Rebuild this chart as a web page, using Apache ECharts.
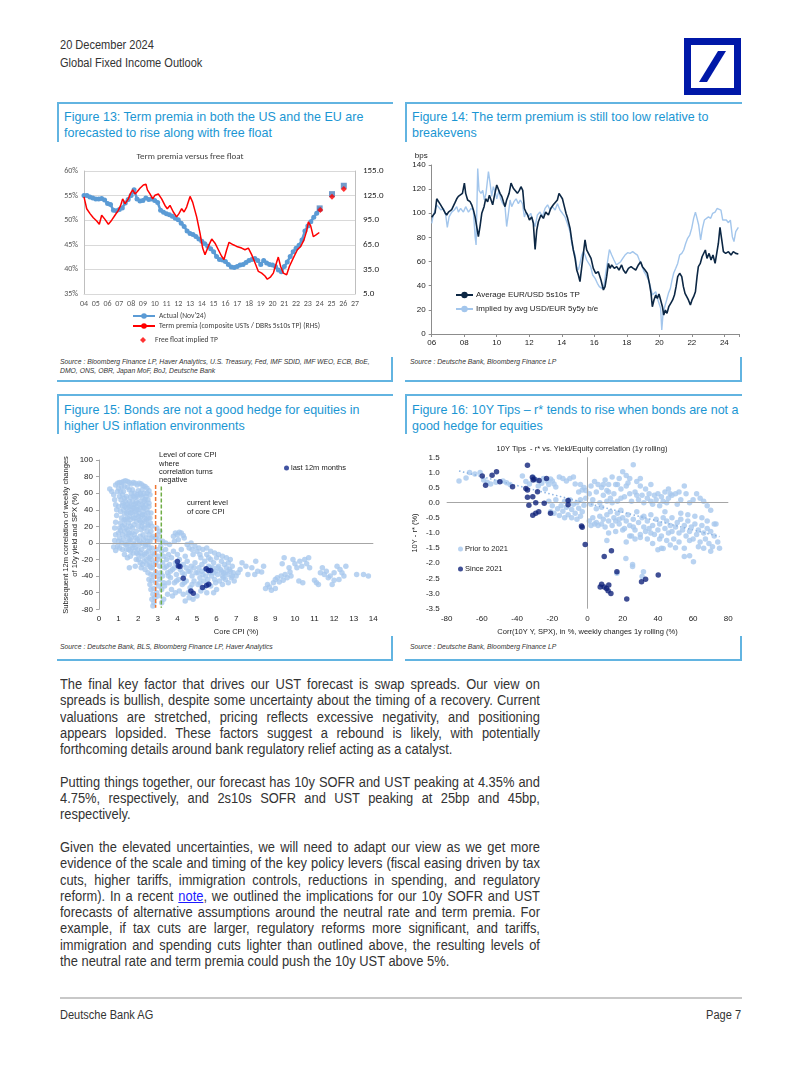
<!DOCTYPE html>
<html><head><meta charset="utf-8">
<script src="https://cdn.jsdelivr.net/npm/echarts@6/dist/echarts.min.js"></script>
<style>
html,body{margin:0;padding:0;background:#fff;}
body{width:802px;height:1068px;position:relative;overflow:hidden;font-family:"Liberation Sans",Arial,sans-serif;color:#333;}
.abs{position:absolute;white-space:nowrap;}
.sx{transform:scaleX(0.92);transform-origin:left top;}
.sxr{transform:scaleX(0.92);transform-origin:right top;}
.hdr{font-size:12px;line-height:16px;color:#333;}
.ftitle{font-size:13.6px;line-height:16px;color:#1b96d3;}
.bl{position:absolute;background:#62b4e1;}
.src{font-family:"Liberation Sans",Arial,sans-serif;font-style:italic;font-size:6.8px;line-height:9px;color:#333;}
.body{position:absolute;left:60px;top:676px;width:521.7px;font-size:14px;line-height:16.3px;color:#333;transform:scaleX(0.92);transform-origin:left top;}
.body div{white-space:nowrap;}
.body .j{text-align:justify;text-align-last:justify;white-space:normal;}
.body .gap{height:16.3px;}
.body a{color:#1a1aff;text-decoration:underline;}
#c{position:absolute;left:0;top:0;width:802px;height:1068px;}
</style></head>
<body>
<div class="abs hdr sx" style="left:60px;top:37px;">20 December 2024</div>
<div class="abs hdr sx" style="left:60px;top:55px;">Global Fixed Income Outlook</div>
<svg class="abs" style="left:684px;top:38px;" width="57" height="57" viewBox="0 0 57 57">
 <rect x="0" y="0" width="57" height="57" fill="#0018a8"/>
 <rect x="7" y="7" width="43" height="43" fill="#fff"/>
 <polygon points="15,44 23,44 42,13 34,13" fill="#0018a8"/>
</svg>

<!-- panel borders -->
<div class="bl" style="left:57px;top:102px;width:336px;height:1.6px;"></div>
<div class="bl" style="left:57px;top:102px;width:1.6px;height:40px;"></div>
<div class="bl" style="left:57px;top:380px;width:336px;height:1.6px;"></div>
<div class="bl" style="left:391px;top:357px;width:1.6px;height:25px;"></div>

<div class="bl" style="left:405px;top:102px;width:337px;height:1.6px;"></div>
<div class="bl" style="left:405px;top:102px;width:1.6px;height:40px;"></div>
<div class="bl" style="left:405px;top:380px;width:337px;height:1.6px;"></div>
<div class="bl" style="left:740px;top:357px;width:1.6px;height:25px;"></div>

<div class="bl" style="left:57px;top:394px;width:336px;height:1.6px;"></div>
<div class="bl" style="left:57px;top:394px;width:1.6px;height:40px;"></div>
<div class="bl" style="left:57px;top:659px;width:336px;height:1.6px;"></div>
<div class="bl" style="left:391px;top:636px;width:1.6px;height:25px;"></div>

<div class="bl" style="left:405px;top:394px;width:337px;height:1.6px;"></div>
<div class="bl" style="left:405px;top:394px;width:1.6px;height:40px;"></div>
<div class="bl" style="left:405px;top:659px;width:337px;height:1.6px;"></div>
<div class="bl" style="left:740px;top:636px;width:1.6px;height:25px;"></div>

<div class="abs ftitle sx" style="left:64px;top:109px;">Figure 13: Term premia in both the US and the EU are<br>forecasted to rise along with free float</div>
<div class="abs ftitle sx" style="left:412px;top:109px;">Figure 14: The term premium is still too low relative to<br>breakevens</div>
<div class="abs ftitle sx" style="left:64px;top:402px;">Figure 15: Bonds are not a good hedge for equities in<br>higher US inflation environments</div>
<div class="abs ftitle sx" style="left:412px;top:402px;">Figure 16: 10Y Tips – r* tends to rise when bonds are not a<br>good hedge for equities</div>

<div class="abs src" style="left:60px;top:357px;">Source : Bloomberg Finance LP, Haver Analytics, U.S. Treasury, Fed, IMF SDID, IMF WEO, ECB, BoE,<br>DMO, ONS, OBR, Japan MoF, BoJ, Deutsche Bank</div>
<div class="abs src" style="left:410px;top:357px;">Source : Deutsche Bank, Bloomberg Finance LP</div>
<div class="abs src" style="left:60px;top:642px;">Source : Deutsche Bank, BLS, Bloomberg Finance LP, Haver Analytics</div>
<div class="abs src" style="left:410px;top:642px;">Source : Deutsche Bank, Bloomberg Finance LP</div>

<div class="body">
<div class="j">The final key factor that drives our UST forecast is swap spreads. Our view on</div>
<div class="j">spreads is bullish, despite some uncertainty about the timing of a recovery. Current</div>
<div class="j">valuations are stretched, pricing reflects excessive negativity, and positioning</div>
<div class="j">appears lopsided. These factors suggest a rebound is likely, with potentially</div>
<div>forthcoming details around bank regulatory relief acting as a catalyst.</div>
<div class="gap"></div>
<div class="j">Putting things together, our forecast has 10y SOFR and UST peaking at 4.35% and</div>
<div class="j">4.75%, respectively, and 2s10s SOFR and UST peaking at 25bp and 45bp,</div>
<div>respectively.</div>
<div class="gap"></div>
<div class="j">Given the elevated uncertainties, we will need to adapt our view as we get more</div>
<div class="j">evidence of the scale and timing of the key policy levers (fiscal easing driven by tax</div>
<div class="j">cuts, higher tariffs, immigration controls, reductions in spending, and regulatory</div>
<div class="j">reform). In a recent <a>note</a>, we outlined the implications for our 10y SOFR and UST</div>
<div class="j">forecasts of alternative assumptions around the neutral rate and term premia. For</div>
<div class="j">example, if tax cuts are larger, regulatory reforms more significant, and tariffs,</div>
<div class="j">immigration and spending cuts lighter than outlined above, the resulting levels of</div>
<div>the neutral rate and term premia could push the 10y UST above 5%.</div>
</div>

<div class="abs" style="left:60px;top:997px;width:682px;height:1.5px;background:#c8c8c8;"></div>
<div class="abs hdr sx" style="left:60px;top:1007px;">Deutsche Bank AG</div>
<div class="abs hdr sxr" style="right:61px;top:1007px;">Page 7</div>

<div id="c"></div>
<script>
// ---------- Figure 13 data ----------
const f13YearTicks = [2004, 2027];
const ffActual = [[2004.00,55.0],[2004.25,55.0],[2004.50,54.7],[2004.75,54.5],[2005.00,54.3],[2005.25,54.3],[2005.50,54.4],[2005.75,54.1],[2006.00,53.4],[2006.25,53.2],[2006.50,52.0],[2006.75,51.9],[2007.00,52.2],[2007.25,52.5],[2007.50,53.5],[2007.75,54.2],[2008.00,55.0],[2008.25,56.2],[2008.50,54.3],[2008.75,53.9],[2009.00,54.0],[2009.25,54.5],[2009.50,54.2],[2009.75,54.3],[2010.00,54.0],[2010.25,53.6],[2010.50,52.0],[2010.75,51.6],[2011.00,51.3],[2011.25,51.1],[2011.50,50.8],[2011.75,50.4],[2012.00,50.1],[2012.25,49.4],[2012.50,48.7],[2012.75,47.8],[2013.00,47.3],[2013.25,47.1],[2013.50,46.7],[2013.75,46.2],[2014.00,45.7],[2014.25,45.2],[2014.50,44.7],[2014.75,44.2],[2015.00,43.6],[2015.25,42.6],[2015.50,42.0],[2015.75,41.9],[2016.00,41.6],[2016.25,41.0],[2016.50,40.5],[2016.75,40.4],[2017.00,40.6],[2017.25,40.9],[2017.50,41.0],[2017.75,41.4],[2018.00,41.8],[2018.25,42.0],[2018.50,42.2],[2018.75,41.8],[2019.00,41.0],[2019.25,41.8],[2019.50,41.3],[2019.75,41.0],[2020.00,40.9],[2020.25,40.6],[2020.50,39.9],[2020.75,39.5],[2021.00,40.6],[2021.25,41.5],[2021.50,42.6],[2021.75,43.6],[2022.00,44.3],[2022.25,44.9],[2022.50,46.0],[2022.75,47.8],[2023.00,48.8],[2023.25,49.7],[2023.50,50.6],[2023.75,51.4],[2024.00,52.2]];
const ffForecast = [[2024.00,52.4],[2025.05,55.3],[2026.05,57.0]];
const termPremia = [[2004.00,123.5],[2004.23,109],[2004.51,103],[2004.79,98],[2005.08,94],[2005.30,90],[2005.50,101],[2005.78,96],[2006.07,90],[2006.35,95],[2006.63,101],[2006.91,107],[2007.11,113],[2007.28,121],[2007.48,115],[2007.76,121],[2007.96,128],[2008.13,132],[2008.33,127],[2008.53,130],[2008.75,134],[2009.04,138],[2009.26,139],[2009.38,132],[2009.60,127],[2009.83,121],[2010.03,125.5],[2010.31,127],[2010.59,121],[2010.87,113],[2011.07,109],[2011.30,113],[2011.58,105],[2011.86,99],[2012.06,103],[2012.29,109],[2012.49,105],[2012.71,111],[2013.00,124],[2013.22,117],[2013.56,99],[2013.85,79],[2014.07,61],[2014.27,53],[2014.55,63],[2014.84,72],[2015.12,67],[2015.40,59],[2015.68,51],[2015.88,47],[2016.11,59],[2016.31,68],[2016.67,65],[2016.96,63],[2017.38,61],[2017.66,59],[2017.95,61],[2018.23,53],[2018.51,43],[2018.80,32.5],[2019.08,30.5],[2019.36,27],[2019.56,23],[2019.84,26],[2020.07,30.5],[2020.29,41],[2020.49,50],[2020.69,38.5],[2020.92,30.5],[2021.20,28.5],[2021.43,38.5],[2021.77,49],[2022.11,59],[2022.39,63],[2022.67,71],[2022.90,82],[2023.04,93],[2023.24,88],[2023.46,75],[2023.69,77],[2023.97,80]];
const ffImpliedTP = [[2024.05,107.3],[2025.05,123.5],[2026.05,133.2]];
const f13RightTicks = [5,35,65,95,125,155];

// ---------- Figure 14 data ----------
const tpAvg = [[2006.00,96.7],[2006.10,98.6],[2006.21,100.5],[2006.31,112],[2006.41,111],[2006.55,107],[2006.72,103],[2006.82,100.5],[2006.92,98.6],[2007.03,101],[2007.23,103],[2007.44,109],[2007.54,112],[2007.64,114],[2007.74,114],[2007.89,116.5],[2008.01,125],[2008.09,116.5],[2008.21,111],[2008.36,109.6],[2008.46,107],[2008.56,103],[2008.67,97],[2008.77,89],[2008.87,80.6],[2008.97,89],[2009.08,100],[2009.22,105.5],[2009.32,112],[2009.44,109.6],[2009.55,115],[2009.65,111],[2009.75,107],[2009.85,114],[2010.00,123.5],[2010.10,122],[2010.20,116.5],[2010.31,114],[2010.41,109.6],[2010.51,105.5],[2010.61,111],[2010.76,116.5],[2010.88,125],[2011.02,120.7],[2011.13,122],[2011.27,116.5],[2011.39,119],[2011.49,122],[2011.60,119],[2011.70,104],[2011.80,101],[2011.90,98.6],[2012.01,94.4],[2012.15,97],[2012.25,91.7],[2012.36,70],[2012.46,86],[2012.56,93],[2012.72,98.6],[2012.87,95.8],[2013.01,101],[2013.18,98.6],[2013.32,104],[2013.48,107],[2013.59,105.5],[2013.73,111],[2013.83,116.5],[2013.93,118],[2014.04,112],[2014.16,105.5],[2014.26,100],[2014.36,95.8],[2014.51,87.5],[2014.61,77.9],[2014.71,69.6],[2014.82,62.7],[2014.92,53],[2015.02,48.9],[2015.12,43.4],[2015.23,55.8],[2015.33,66.8],[2015.43,77.9],[2015.53,69.6],[2015.64,66.8],[2015.80,62.7],[2015.94,54.4],[2016.09,50.3],[2016.25,51.6],[2016.41,44.7],[2016.56,36.5],[2016.66,39.2],[2016.76,47.5],[2016.87,58.5],[2016.97,54.4],[2017.07,57.2],[2017.23,54.4],[2017.38,55.8],[2017.52,53],[2017.68,57.2],[2017.79,53],[2017.93,50.3],[2018.10,54.4],[2018.26,55.8],[2018.40,54.4],[2018.55,53],[2018.71,57.2],[2018.85,59.9],[2018.96,55.8],[2019.12,53],[2019.26,50.3],[2019.39,42],[2019.49,33.7],[2019.57,22.6],[2019.67,28.2],[2019.78,32.3],[2019.88,29.5],[2019.98,33.1],[2020.08,28.2],[2020.19,22.6],[2020.27,15.7],[2020.37,19.9],[2020.47,17.1],[2020.58,22.6],[2020.70,25.4],[2020.82,28.2],[2020.93,32.3],[2021.03,39.2],[2021.13,47.5],[2021.25,50.3],[2021.38,47.5],[2021.48,39.2],[2021.58,33.7],[2021.68,32.3],[2021.79,28.2],[2021.91,24],[2022.01,28.2],[2022.11,30.9],[2022.22,35],[2022.32,47.5],[2022.40,55.8],[2022.52,58.5],[2022.63,64],[2022.73,62.7],[2022.83,69.6],[2022.93,62.7],[2023.06,66.8],[2023.18,61.3],[2023.30,65.4],[2023.43,58.5],[2023.53,66.8],[2023.63,75],[2023.73,88.4],[2023.84,77.9],[2023.94,68.2],[2024.08,66.8],[2024.25,68.2],[2024.41,65.4],[2024.55,68.2],[2024.70,66.8],[2024.86,66.3]];
const beImplied = [[2006.00,91.7],[2006.10,98.6],[2006.21,102.7],[2006.31,107],[2006.41,108],[2006.57,102.7],[2006.72,104],[2006.86,98.6],[2006.96,88.4],[2007.07,97],[2007.23,101],[2007.39,102.7],[2007.54,105.5],[2007.64,101],[2007.78,104],[2007.95,101],[2008.09,105.5],[2008.26,101],[2008.42,104],[2008.56,102.7],[2008.67,80.6],[2008.73,73.7],[2008.83,137],[2008.91,119],[2009.03,116.5],[2009.14,119],[2009.24,111],[2009.34,116.5],[2009.49,134.5],[2009.59,125],[2009.69,114],[2009.79,122],[2009.90,118],[2010.00,112],[2010.14,119],[2010.24,112],[2010.37,108],[2010.51,105.5],[2010.61,89],[2010.72,100],[2010.82,111],[2010.92,105.5],[2011.06,109.6],[2011.19,112],[2011.33,108],[2011.45,111],[2011.58,108],[2011.70,97],[2011.80,101],[2011.95,97],[2012.09,100],[2012.21,94.4],[2012.36,89],[2012.50,98.6],[2012.66,101],[2012.81,97],[2012.97,104],[2013.13,107],[2013.28,102.7],[2013.42,105.5],[2013.59,102.7],[2013.73,108],[2013.89,102.7],[2014.04,100],[2014.20,97],[2014.34,91.7],[2014.51,84.8],[2014.61,75],[2014.71,69.6],[2014.82,65.4],[2014.92,55.8],[2015.02,53],[2015.12,58.5],[2015.23,65.4],[2015.33,68.2],[2015.43,65.4],[2015.53,61.3],[2015.64,62.7],[2015.78,55.8],[2015.90,48.9],[2016.05,46.1],[2016.19,42],[2016.31,39.2],[2016.46,37.8],[2016.60,40.6],[2016.70,50.3],[2016.80,58.5],[2016.93,70],[2017.07,65.4],[2017.21,61.3],[2017.36,57.2],[2017.48,58.5],[2017.62,59.9],[2017.75,62.7],[2017.89,65.4],[2018.05,67.4],[2018.20,66.8],[2018.36,68.2],[2018.50,66.8],[2018.65,65.4],[2018.77,61.3],[2018.92,57.2],[2019.06,51.6],[2019.18,48.9],[2019.33,44.7],[2019.45,39.2],[2019.57,32.3],[2019.67,30.9],[2019.78,35],[2019.88,29.5],[2019.98,28.2],[2020.08,21.3],[2020.15,3.3],[2020.23,17.1],[2020.33,22.6],[2020.45,28.2],[2020.56,33.7],[2020.68,37.8],[2020.78,44.7],[2020.88,50.3],[2021.01,54.4],[2021.13,58.5],[2021.25,65.4],[2021.38,66.8],[2021.50,69.6],[2021.62,75],[2021.74,79.3],[2021.87,82],[2021.99,87.5],[2022.11,95.8],[2022.22,101],[2022.32,95.8],[2022.42,90.3],[2022.54,77.9],[2022.65,87.5],[2022.77,94.4],[2022.89,93],[2023.02,97],[2023.16,95.8],[2023.28,100],[2023.43,101],[2023.55,104],[2023.67,104],[2023.79,102.7],[2023.90,94.4],[2024.00,93],[2024.12,94.4],[2024.25,92.2],[2024.37,94.4],[2024.49,80.6],[2024.59,76.5],[2024.70,84.8],[2024.86,88.4]];

// ---------- Figure 15 data ----------
const cpiHistory = [[0.85,70],[0.95,72],[1.05,73],[1.15,73],[1.25,74],[1.35,75],[1.45,74],[1.55,73],[1.65,71],[1.75,73],[1.85,72],[1.95,70],[2.05,72],[2.15,71],[2.25,69],[2.35,68],[2.45,66],[2.55,63],[2.6,58],
[0.55,65],[0.65,62],[0.75,58],[0.8,52],[0.85,46],[0.9,40],[0.9,33],[0.85,25],[0.8,18],[0.85,10],[0.8,3],[0.75,-5],[0.85,-9],[0.95,-4],[1.0,2],
[1.0,66],[1.1,62],[1.2,58],[1.3,54],[1.35,50],[1.45,47],[1.55,50],[1.6,55],[1.65,60],[1.55,64],[1.45,67],[1.3,68],[1.15,68],[1.7,64],[1.8,60],[1.85,55],[1.9,50],[1.95,58],[2.0,63],[2.1,60],[2.2,64],[2.3,60],[2.4,56],[2.5,52],[2.2,55],[2.1,50],
[1.0,44],[1.1,38],[1.15,30],[1.2,45],[1.25,40],[1.3,35],[1.35,28],[1.4,42],[1.5,38],[1.55,32],[1.6,44],[1.65,40],[1.7,36],[1.75,46],[1.8,42],[1.85,38],[1.9,34],[1.95,44],[2.0,40],[2.05,36],[2.1,42],[2.15,32],[2.2,46],[2.25,38],[2.3,42],[2.35,34],[2.4,46],[2.45,40],[2.5,36],[2.55,44],[2.6,30],[1.45,30],[1.6,28],[1.75,30],[1.9,26],[2.05,28],[2.2,24],[2.35,26],[2.5,22],[2.0,48],[1.85,47],[2.3,50],[1.7,50],[1.5,24],[1.3,22],[1.1,24],[1.05,18],
[1.0,12],[1.05,6],[1.1,15],[1.15,0],[1.2,10],[1.25,4],[1.3,14],[1.35,-2],[1.4,8],[1.45,16],[1.5,2],[1.55,12],[1.6,-4],[1.65,6],[1.7,18],[1.75,0],[1.8,10],[1.85,-6],[1.9,14],[1.95,4],[2.0,20],[2.05,-2],[2.1,8],[2.15,16],[2.2,0],[2.25,10],[2.3,18],[2.35,-4],[2.4,6],[2.45,14],[2.5,-2],[2.55,10],[2.6,2],[2.65,14],[2.7,-6],[2.5,20],[2.2,20],[1.6,20],[1.4,-8],[1.2,-8],[1.05,-6],
[1.3,-14],[1.45,-18],[1.6,-16],[1.75,-12],[1.9,-20],[2.0,-14],[2.1,-24],[2.2,-16],[2.3,-22],[2.4,-12],[2.45,-26],[2.55,-18],[2.6,-28],[2.7,-20],[2.75,-12],[2.15,-30],[1.85,-28],[1.55,-30],[2.35,-32],[2.5,-36],[2.65,-38],[2.8,-26],
[2.55,-44],[2.6,-50],[2.65,-56],[2.7,-45],[2.75,-62],[2.7,-68],[2.8,-72],[2.75,-76],[2.85,-66],[2.8,-55],[2.9,-48],[2.95,-60],[3.0,-40],[3.05,-52],[2.9,-35],[3.0,-64],[2.65,-30],
[2.95,18],[3.0,10],[3.1,14],[3.05,4],[3.15,-4],[2.9,6],
[1.12,52],[1.22,48],[1.32,44],[1.42,36],[1.52,44],[1.62,36],[1.72,42],[1.82,30],[1.92,40],[2.02,32],[2.12,26],[2.22,34],[2.32,30],[2.42,28],[2.52,30],[2.62,24],[1.18,20],[1.28,28],[1.38,18],[1.48,10],[1.58,4],[1.68,12],[1.78,22],[1.88,6],[1.98,-8],[2.08,2],[2.18,-8],[2.28,4],[2.38,-2],[2.48,2],[2.58,-6],[2.68,6],[1.42,-2],[1.52,-8],[1.62,-10],[1.72,-6],[1.82,-2],[1.92,-12],[2.02,-20],[2.12,-12],[2.22,-26],[2.32,-14],[2.42,-20],[2.52,-10],[2.62,-16],[2.72,-30],[2.78,-40],[2.58,-24],[1.95,56],[2.15,58],[2.35,52],[2.55,48],[2.45,60],[1.25,62],[1.05,56],[0.95,62],[1.75,56],[1.4,56],[2.25,44],[2.65,36],[2.7,20],[2.75,8],[2.85,-14],[2.9,-24],[2.95,-8],[3.0,-20],[3.1,-28],[3.05,-16],[3.15,-36],[3.1,-44],[3.2,-56],[3.25,-40],[3.3,-48],
[3.2,-10],[3.3,-16],[3.25,-24],[3.35,-30],[3.4,-8],[3.45,-20],[3.5,-36],[3.55,-14],[3.6,-26],[3.65,-42],[3.7,-18],[3.75,-32],[3.8,-10],[3.85,-48],[3.9,-24],[3.95,-38],[4.0,-14],[4.05,-44],[4.1,-20],[4.15,-32],[4.2,-8],[4.25,-50],[4.3,-26],[4.35,-38],[4.4,-16],[4.45,-46],[4.5,-22],[4.55,-34],[4.6,-6],[4.65,-54],[4.7,-28],[4.75,-40],[4.8,-14],[4.85,-46],[4.9,-24],[4.95,-36],[5.0,-10],[5.05,-50],[5.1,-30],[5.15,-42],[5.2,-18],[5.25,-26],[5.3,-38],[5.35,-46],[5.4,-22],[5.45,-32],[5.5,-14],[5.55,-44],[5.6,-28],[5.65,-36],[5.7,-20],[5.75,-40],[5.8,-30],[5.85,-24],[5.9,-44],[5.95,-34],[6.0,-18],[6.05,-38],[6.1,-28],[6.15,-46],[6.2,-32],[6.25,-22],[6.3,-40],[6.35,-36],[6.4,-26],[6.45,-44],[6.5,-30],[6.55,-38],[6.6,-24],[6.7,-34],[6.75,-42],[6.8,-28],[6.85,-36],[7.0,-40],[7.1,-36],[6.9,-46],[6.6,-48],[6.3,-50],[6.0,-56],[5.7,-52],[5.5,-60],[5.2,-58],[5.0,-64],[4.8,-68],[4.6,-66],[4.4,-70],[4.3,-62],[4.1,-58],[3.9,-60],[3.7,-56],[3.5,-62],[3.3,-68],[3.2,-72],[3.35,-52],[3.55,-48],[3.75,-64],[4.55,-60],[5.35,-54],[5.85,-60],
[3.8,8],[3.9,12],[4.0,10],[4.1,13],[4.2,12],[4.3,9],[4.35,6],[4.05,4],[3.85,2],[3.6,-2],[3.4,0],[3.25,2],[4.5,-2],[4.7,0],[4.9,-4],[5.1,-6],[5.3,-8],[5.5,-6],[5.7,-10],[5.9,-12],[6.1,-14],[6.3,-16],[6.5,-18],[6.7,-20],[4.75,-8],[5.15,-14],[5.6,-18],
[3.45,-28],[3.65,-34],[3.85,-30],[4.05,-26],[4.25,-36],[4.45,-30],[4.65,-34],[4.85,-30],[5.05,-36],[5.25,-34],[5.45,-40],[5.65,-30],[5.85,-36],[6.05,-30],[6.25,-34],[6.45,-36],[6.65,-32],[3.55,-40],[3.95,-46],[4.35,-48],[4.75,-50],[5.15,-48],[5.55,-50],[5.95,-48],[6.35,-42],[6.8,-40],
[7.2,-32],[7.3,-24],[7.5,-28],[7.6,-38],[7.8,-30],[7.95,-38],[8.1,-34],[8.3,-35],[8.5,-55],[8.6,-50],[8.7,-53],[8.8,-57],[8.9,-48],[9.0,-44],[9.1,-42],[9.2,-47],[9.3,-40],[9.35,-25],[9.45,-18],[9.4,-45],[9.5,-38],[9.6,-42],[9.7,-30],[9.75,-35],[9.8,-40],[9.9,-20],[10.0,-25],[10.1,-30],[10.2,-46],[10.25,-22],[10.35,-28],[10.4,-48],[10.5,-20],[10.6,-25],[10.7,-18],[10.75,-30],[11.1,-48],[11.2,-50],[11.3,-36],[11.4,-30],[11.5,-38],[11.6,-34],[11.7,-42],[11.8,-40],[11.9,-50],[12.0,-36],[12.15,-28],[12.25,-44],[12.4,-36],[12.5,-40],[12.6,-28],[13.15,-38],[13.5,-38],[13.75,-40],[8.0,-22],[8.4,-28],[9.0,-55],[11.0,-45],[12.0,-45],[12.3,-32]];
const cpiLast12m = [[4.0,-22.5],[4.05,-27.7],[4.13,-28.5],[4.3,-42.6],[4.69,-57.9],[4.81,-60.7],[5.28,-53.8],[5.49,-51.4],[5.6,-49.8],[5.47,-31],[5.59,-33.3],[5.7,-33.3]];
const cpiTurnLine = [[2.89,70],[2.89,-78]];
const cpiCurrentLine = [[3.18,68],[3.18,-78]];

// ---------- Figure 16 data ----------
const tipsPrior2021 = [[-73,0.72],[-69,0.82],[-67,1.0],[-64,0.95],[-61,1.0],[-59,0.75],[-57,0.68],[-55,0.62],[-52,0.68],[-48,0.72],[-46,0.66],[-44,0.6],[-37,0.88],[-35,0.7],[-33,0.62],[-31,0.85],[-29,0.75],[-28,0.55],[-26,0.64],[-25,0.8],[-24,0.45],[-23,0.72],[-22,0.6],[-21,0.78],[-20,0.72],[-19,0.62],[-18,0.52],[-16,0.85],[-14,0.8],[-12,0.72],[-10,0.8],[-8,0.85],[-7,0.62],[-5,0.35],[-4,0.6],[-3,0.42],[-2,0.5],[-1,0.4],
[-21,-0.3],[-19,-0.35],[-17,-0.2],[-16,-0.42],[-15,-0.1],[-14,-0.28],[-13,0.05],[-12,-0.15],[-11,-0.4],[-10,0.1],[-9,-0.22],[-8,-0.05],[-7,-0.35],[-6,0.0],[-5,-0.18],[-4,0.1],[-3,-0.3],[-2,-0.08],[-1,0.15],[-18,0.1],[-20,-0.1],[-22,0.05],[-13,-0.5],[-9,-0.5],[-6,-0.55],[-4,-0.45],
[1,0.3],[2,0.55],[3,0.1],[4,0.7],[5,0.35],[6,0.6],[7,0.0],[8,0.5],[9,0.25],[10,0.75],[11,0.4],[12,0.6],[13,0.15],[14,0.85],[15,0.3],[16,0.6],[17,0.05],[18,0.8],[19,0.45],[20,1.02],[21,0.2],[22,0.9],[23,0.65],[24,0.8],[25,0.05],[26,1.25],[27,0.35],[28,0.7],[29,0.1],[30,0.55],[31,0.25],[32,0.0],[33,0.45],[34,0.15],[35,0.3],[36,0.05],[37,-0.05],[38,0.25],[39,0.1],[40,0.3],[41,-0.1],[42,0.2],[43,0.05],[44,0.35],[45,0.0],[46,0.15],[47,0.3],[48,0.25],[50,0.3],[51,-0.05],[53,0.1],[55,0.55],[56,0.3],[58,0.0],[60,0.1],[62,0.3],[64,0.15],[66,0.05],[68,-0.1],[70,-0.25],[2,-0.05],[5,-0.2],[8,-0.15],[11,0.05],[14,0.0],[19,0.15],[24,0.3],[28,0.25],[12,0.35],[17,0.6],[22,0.55],[30,0.8],[36,0.6],[46,0.45],[52,0.35],[9,0.6],
[1,-0.6],[2,-0.75],[3,-0.5],[4,-0.7],[5,-0.65],[6,-0.75],[7,-0.45],[8,-0.7],[9,-0.55],[10,-0.8],[11,-0.4],[12,-0.6],[13,-0.3],[14,-0.75],[15,-0.5],[16,-0.6],[17,-0.35],[18,-0.7],[19,-0.25],[20,-0.5],[21,-0.85],[22,-0.6],[23,-0.4],[24,-0.75],[25,-1.1],[26,-0.55],[27,-0.9],[28,-0.3],[29,-0.65],[30,-1.15],[31,-0.5],[32,-0.8],[33,-0.95],[34,-0.6],[35,-0.85],[36,-0.4],[37,-0.75],[38,-1.05],[39,-0.55],[40,-0.9],[41,-0.7],[42,-1.1],[43,-0.5],[44,-0.85],[45,-0.6],[46,-1.0],[47,-0.75],[48,-0.5],[49,-1.2],[50,-0.8],[51,-0.65],[52,-1.0],[53,-0.55],[54,-0.9],[55,-0.75],[56,-1.1],[57,-0.6],[58,-0.95],[59,-0.8],[60,-1.2],[61,-0.7],[62,-1.05],[63,-0.9],[64,-1.3],[65,-0.75],[66,-1.0],[67,-1.2],[68,-0.85],[69,-1.35],[70,-0.95],[71,-1.45],[72,-1.1],[73,-0.7],[74,-1.3],[75,-1.5],[70,-1.6],[66,-1.5],[63,-1.45],[58,-1.75],[55,-1.5],[52,-1.3],[47,-1.4],[42,-1.5],[40,-1.55],[37,-1.35],[34,-1.2],[30,-1.05],[27,-1.2],[24,-1.1],[22,-1.3],[20,-0.9],[16,-0.95],[12,-1.0],[11,-1.25],[18,-0.55],[26,-0.8],[32,-0.45],[36,-1.0],[44,-0.3],[48,-0.95],[53,-0.35],[57,-0.4],[61,-0.45],[65,-0.5],[68,-0.6],[72,-0.7],[58,-1.25],[45,-1.25],[41,-1.2],
[21.8,-1.84],[25.6,-2.04],[25.6,-2.11],[16.7,-2.33],[31.8,-2.28],[31,-2.44],[43,-1.51],[50,-1.49],[55,-1.78],[60.2,-1.95]];
const tipsSince2021 = [[-59.8,0.88],[-57.9,0.58],[-54.2,0.91],[-51.7,1.02],[-49.8,0.69],[-42.6,0.53],[-34.1,1.24],[-35,0.47],[-34.1,0.42],[-34.1,0.18],[-33.3,-0.08],[-31.3,0.84],[-30.9,0.75],[-30.3,0.78],[-31.1,0.2],[-29.4,0.0],[-28.4,0.36],[-27.5,0.73],[-31.1,-0.41],[-29.4,-0.35],[-27.7,-0.3],[-24.6,-0.02],[-23.3,0.8],[-21,-0.35],[-11,0.07],[-11,-0.07],[-3.4,-0.77],[-3.0,-0.81],[-1.3,-1.38],[9.5,-1.78],[13.6,-1.59],[16.7,-2.28],[7.2,-2.78],[8.0,-2.69],[9.5,-2.78],[10.8,-2.83],[11.7,-2.91],[12.1,-2.72],[13.3,-3.0],[22.3,-3.18],[30.7,-2.61],[33,-2.53],[40.2,-2.39]];
const tipsTrend = [[-73,1.05],[75,-1.12]];

// ---------- chart ----------
const fontA = '"Liberation Sans", Arial, sans-serif';
const fontC = 'Carlito, Lato, "Liberation Sans", sans-serif';
const axisGray = '#a6a6a6';
const lightBlue = '#a8c8ee';

const chart = echarts.init(document.getElementById('c'), null, {renderer: 'canvas', width: 802, height: 1068});

const option = {
  animation: false,
  backgroundColor: 'transparent',
  textStyle: {fontFamily: fontA},
  grid: [
    {left: 84, top: 171, width: 271, height: 123},
    {left: 431.7, top: 165, width: 307.3, height: 169},
    {left: 99, top: 460, width: 274.3, height: 149.3},
    {left: 446.7, top: 457.3, width: 281.6, height: 151.4}
  ],
  xAxis: [
    {gridIndex: 0, type: 'value', min: f13YearTicks[0], max: f13YearTicks[1], interval: 1,
     axisLine: {show: true, onZero: false, lineStyle: {color: '#d9d9d9'}}, axisTick: {show: false}, splitLine: {show: false},
     axisLabel: {formatter: v => String(v).slice(2), fontSize: 8, color: '#595959', fontFamily: fontC, margin: 6}},
    {gridIndex: 1, type: 'value', min: 2006, max: 2024.9, interval: 2,
     axisLine: {show: true, onZero: false, lineStyle: {color: '#8c8c8c'}}, axisTick: {show: true, length: 3, lineStyle: {color: '#8c8c8c'}}, splitLine: {show: false},
     axisLabel: {formatter: v => (Number.isInteger(v) ? String(v).slice(2) : ''), fontSize: 8, color: '#222', margin: 5}},
    {gridIndex: 2, type: 'value', min: 0, max: 14, interval: 1,
     axisLine: {show: false}, axisTick: {show: false}, splitLine: {show: false},
     axisLabel: {fontSize: 8, color: '#222', margin: 5},
     name: 'Core CPI (%)', nameLocation: 'middle', nameGap: 19, nameTextStyle: {fontSize: 7.5, color: '#222'}},
    {gridIndex: 3, type: 'value', min: -80, max: 80, interval: 20,
     axisLine: {show: false}, axisTick: {show: false}, splitLine: {show: false},
     axisLabel: {fontSize: 8, color: '#222', margin: 6},
     name: 'Corr(10Y Y, SPX), in %, weekly changes 1y rolling (%)', nameLocation: 'middle', nameGap: 19, nameTextStyle: {fontSize: 7.5, color: '#222'}}
  ],
  yAxis: [
    {gridIndex: 0, type: 'value', min: 35, max: 60, interval: 5,
     axisLine: {show: true, lineStyle: {color: '#bfbfbf'}}, axisTick: {show: false},
     splitLine: {show: true, lineStyle: {color: '#d9d9d9'}},
     axisLabel: {formatter: '{value}%', fontSize: 8, color: '#595959', fontFamily: fontC, margin: 6}},
    {gridIndex: 0, type: 'value', position: 'right', min: 5, max: 155,
     axisLine: {show: true, lineStyle: {color: '#bfbfbf'}}, axisTick: {show: false}, splitLine: {show: false},
     axisLabel: {customValues: f13RightTicks, formatter: v => v.toFixed(1), fontSize: 9, color: '#262626', fontFamily: fontC, margin: 8}},
    {gridIndex: 1, type: 'value', min: 0, max: 140, interval: 20,
     axisLine: {show: true, lineStyle: {color: '#8c8c8c'}}, axisTick: {show: true, length: 3, lineStyle: {color: '#8c8c8c'}}, splitLine: {show: false},
     axisLabel: {fontSize: 8, color: '#222', margin: 6},
     name: 'bps', nameLocation: 'end', nameGap: 5, nameTextStyle: {fontSize: 8, color: '#222', align: 'right', padding: [0, 4, 0, 0]}},
    {gridIndex: 2, type: 'value', min: -80, max: 100, interval: 20,
     axisLine: {show: true, onZero: false, lineStyle: {color: axisGray}}, axisTick: {show: true, length: 3, lineStyle: {color: axisGray}}, splitLine: {show: false},
     axisLabel: {fontSize: 8, color: '#222', margin: 6}},
    {gridIndex: 3, type: 'value', min: -3.5, max: 1.5, interval: 0.5,
     axisLine: {show: false}, axisTick: {show: false}, splitLine: {show: false},
     axisLabel: {formatter: v => v.toFixed(1), fontSize: 8, color: '#222', margin: 7},
     name: '10Y - r* (%)', nameLocation: 'middle', nameGap: 28, nameRotate: 90, nameTextStyle: {fontSize: 7.5, color: '#222'}}
  ],
  legend: [
    {data: ["Actual (Nov'24)", 'Term premia (composite USTs / DBRs 5s10s TP) (RHS)'],
     orient: 'vertical', left: 127, top: 307, itemGap: 2, itemWidth: 22, itemHeight: 7,
     textStyle: {fontSize: 7.5, color: '#404040', fontFamily: fontC, padding: [0, 0, 0, -1]}},
    {data: ['Free float implied TP'],
     left: 135, top: 331, itemWidth: 6, itemHeight: 6,
     textStyle: {fontSize: 7.5, color: '#404040', fontFamily: fontC, padding: [0, 0, 0, 4]}},
    {data: ['Average EUR/USD 5s10s TP', 'Implied by avg USD/EUR 5y5y b/e'],
     orient: 'vertical', left: 450, top: 286, itemGap: 6, itemWidth: 17, itemHeight: 8,
     textStyle: {fontSize: 8, color: '#222', padding: [0, 0, 0, -2]}},
    {data: ['last 12m months'], left: 279, top: 459, itemWidth: 5, itemHeight: 5,
     textStyle: {fontSize: 7.5, color: '#222', padding: [0, 0, 0, -3]}},
    {data: ['Prior to 2021', 'Since 2021'], orient: 'vertical', left: 453, top: 540, itemGap: 12, itemWidth: 5, itemHeight: 5,
     textStyle: {fontSize: 7.5, color: '#222', padding: [0, 0, 0, -3]}}
  ],
  graphic: [
    {type: 'text', x: 190, y: 157, style: {text: 'Term premia versus free float', fill: '#404040', font: '9px ' + fontC, textAlign: 'center', textVerticalAlign: 'middle'}},
    {type: 'text', x: 582, y: 449, style: {text: '10Y Tips  - r* vs. Yield/Equity correlation (1y rolling)', fill: '#222', font: '7.5px ' + fontA, textAlign: 'center', textVerticalAlign: 'middle'}},
    {type: 'text', x: 70, y: 535, rotation: Math.PI / 2, style: {text: 'Subsequent 12m correlation of weekly changes\nof 10y yield and SPX (%)', fill: '#222', font: '7.5px ' + fontA, textAlign: 'center', textVerticalAlign: 'middle', lineHeight: 9}},
    {type: 'text', x: 159, y: 451, style: {text: 'Level of core CPI\nwhere\ncorrelation turns\nnegative', fill: '#222', font: '7.5px ' + fontA, textAlign: 'left', textVerticalAlign: 'top', lineHeight: 8.3}},
    {type: 'text', x: 187, y: 499, style: {text: 'current level\nof core CPI', fill: '#222', font: '7.5px ' + fontA, textAlign: 'left', textVerticalAlign: 'top', lineHeight: 8.3}}
  ],
  series: [
    {name: "Actual (Nov'24)", type: 'line', xAxisIndex: 0, yAxisIndex: 0, data: ffActual,
     symbol: 'circle', symbolSize: 5, lineStyle: {color: '#5b9bd5', width: 2.5}, itemStyle: {color: '#5b9bd5'}, z: 3},
    {name: 'Term premia (composite USTs / DBRs 5s10s TP) (RHS)', type: 'line', xAxisIndex: 0, yAxisIndex: 1, data: termPremia,
     symbol: 'none', lineStyle: {color: '#ff0000', width: 1.5}, itemStyle: {color: '#ff0000'}, z: 4},
    {name: 'Free float forecast', type: 'scatter', xAxisIndex: 0, yAxisIndex: 0, data: ffForecast,
     symbol: 'rect', symbolSize: 6, itemStyle: {color: '#4f81bd'}, z: 5},
    {name: 'Free float implied TP', type: 'scatter', xAxisIndex: 0, yAxisIndex: 1, data: ffImpliedTP,
     symbol: 'diamond', symbolSize: 6, itemStyle: {color: '#ff0000'}, z: 6},

    {name: 'Implied by avg USD/EUR 5y5y b/e', type: 'line', xAxisIndex: 1, yAxisIndex: 2, data: beImplied,
     symbol: 'none', lineStyle: {color: '#a3c6ec', width: 1.4}, itemStyle: {color: '#a3c6ec'}},
    {name: 'Average EUR/USD 5s10s TP', type: 'line', xAxisIndex: 1, yAxisIndex: 2, data: tpAvg,
     symbol: 'none', lineStyle: {color: '#0c2744', width: 1.6}, itemStyle: {color: '#0c2744'}},

    {name: 'history', type: 'scatter', xAxisIndex: 2, yAxisIndex: 3, data: cpiHistory,
     symbolSize: 5.5, itemStyle: {color: lightBlue},
     markLine: {silent: true, symbol: 'none', animation: false, label: {show: false}, lineStyle: {color: axisGray, type: 'solid', width: 1}, data: [{yAxis: 0}]}},
    {name: 'last 12m months', type: 'scatter', xAxisIndex: 2, yAxisIndex: 3, data: cpiLast12m,
     symbolSize: 5.5, itemStyle: {color: '#12288a'}, z: 5},
    {name: 'turn', type: 'line', xAxisIndex: 2, yAxisIndex: 3, data: cpiTurnLine, symbol: 'none',
     lineStyle: {color: '#f07430', width: 1.5, type: [4, 2]}, z: 6},
    {name: 'current', type: 'line', xAxisIndex: 2, yAxisIndex: 3, data: cpiCurrentLine, symbol: 'none',
     lineStyle: {color: '#70ad47', width: 1.5, type: [4, 2]}, z: 6},

    {name: 'Prior to 2021', type: 'scatter', xAxisIndex: 3, yAxisIndex: 4, data: tipsPrior2021,
     symbolSize: 5.5, itemStyle: {color: lightBlue},
     markLine: {silent: true, symbol: 'none', animation: false, label: {show: false}, lineStyle: {color: axisGray, type: 'solid', width: 1}, data: [{yAxis: 0}, {xAxis: 0}]}},
    {name: 'Since 2021', type: 'scatter', xAxisIndex: 3, yAxisIndex: 4, data: tipsSince2021,
     symbolSize: 5.5, itemStyle: {color: '#10237a'}, z: 5},
    {name: 'trend', type: 'line', xAxisIndex: 3, yAxisIndex: 4, data: tipsTrend, symbol: 'none',
     lineStyle: {color: '#8db4e2', width: 1.5, type: [1.5, 2.5]}, z: 4}
  ]
};
chart.setOption(option);
</script>
</body></html>
